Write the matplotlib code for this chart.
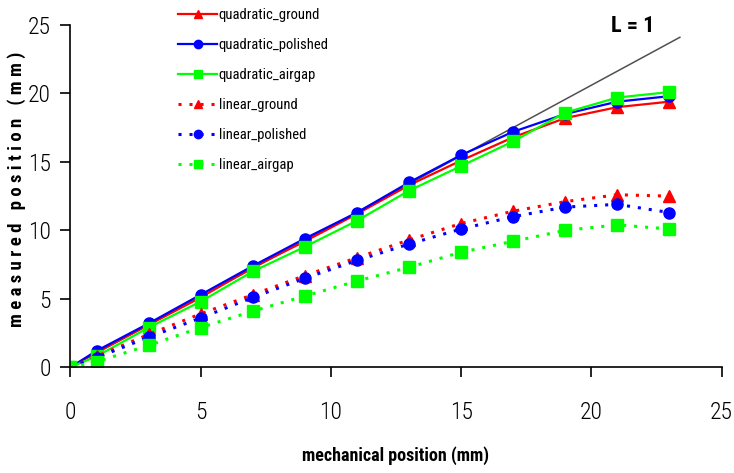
import matplotlib
matplotlib.use("Agg")
import matplotlib.pyplot as plt
from matplotlib import font_manager

# Narrow sans for the text, first one that is installed
names = {f.name for f in font_manager.fontManager.ttflist}
narrow = [n for n in ("Liberation Sans Narrow", "Arial Narrow", "Roboto Condensed",
                      "Archivo Narrow", "PT Sans Narrow", "Liberation Sans") if n in names][:1]
plt.rcParams["font.family"] = narrow + ["DejaVu Sans"]

# mechanical position (mm)
x = [0, 1, 3, 5, 7, 9, 11, 13, 15, 17, 19, 21, 23]

quadratic_ground = [0, 1.1, 3.1, 5.1, 7.3, 9.2, 11.2, 13.3, 15.1, 16.8, 18.2, 19.0, 19.4]
quadratic_polished = [0, 1.2, 3.2, 5.3, 7.4, 9.4, 11.3, 13.5, 15.5, 17.2, 18.5, 19.4, 19.8]
quadratic_airgap = [0, 0.8, 2.9, 4.8, 7.0, 8.8, 10.7, 12.9, 14.7, 16.5, 18.6, 19.7, 20.1]
linear_ground = [0, 0.8, 2.4, 3.9, 5.3, 6.7, 8.0, 9.3, 10.5, 11.4, 12.1, 12.6, 12.5]
linear_polished = [0, 0.7, 2.2, 3.6, 5.1, 6.5, 7.8, 9.0, 10.1, 11.0, 11.7, 11.9, 11.3]
linear_airgap = [0, 0.4, 1.6, 2.9, 4.1, 5.2, 6.3, 7.3, 8.4, 9.2, 10.0, 10.4, 10.1]

# ideal response line
ideal_x = [0, 23.4]
ideal_y = [0, 24.1]

ticks = [0, 5, 10, 15, 20, 25]

fig = plt.figure(figsize=(7.34, 4.73), dpi=100)
ax = fig.add_axes([0.096, 0.2235, 0.887, 0.7237])

ax.plot(ideal_x, ideal_y, color="#505050", lw=1.1, zorder=1)

dotted = (0, (1.0, 2.6))
series = [
    (quadratic_ground, "quadratic_ground", "#ff0000", "^", "-"),
    (quadratic_polished, "quadratic_polished", "#0000ff", "o", "-"),
    (quadratic_airgap, "quadratic_airgap", "#00ff00", "s", "-"),
    (linear_ground, "linear_ground", "#ff0000", "^", dotted),
    (linear_polished, "linear_polished", "#0000ff", "o", dotted),
    (linear_airgap, "linear_airgap", "#00ff00", "s", dotted),
]
for ys, label, col, mk, ls in series:
    ax.plot(x, ys, color=col, ls=ls, lw=2.2 if ls != "-" else 1.6,
            marker=mk, ms=8, mec=col, mfc=col, label=label, zorder=2)

ax.set_xlim(0, 25)
ax.set_ylim(0, 25)
ax.set_xticks(ticks)
ax.set_yticks(ticks)
for s in ("top", "right"):
    ax.spines[s].set_visible(False)
for s in ("left", "bottom"):
    ax.spines[s].set_linewidth(1.2)
ax.tick_params(axis="both", direction="out", length=7, width=1.2, labelsize=17)
ax.tick_params(axis="x", pad=17)
ax.tick_params(axis="y", pad=7)
for lab in ax.get_xticklabels() + ax.get_yticklabels():
    lab.set_fontweight("light")

ax.set_xlabel("mechanical position (mm)", fontsize=13, fontweight="bold", labelpad=16)
ax.set_ylabel("m e a s u r e d   p o s i t i o n   ( m m )", fontsize=13.5,
              fontweight="bold")
ax.yaxis.set_label_coords(-0.068, 0.52)

ax.text(21.6, 24.95, "L = 1", fontsize=16, fontweight="bold", ha="center",
        va="center", clip_on=False)

leg = ax.legend(loc="upper left", bbox_to_anchor=(178 / 734, 1 - 8 / 473),
                bbox_transform=fig.transFigure, frameon=False, fontsize=10.5,
                handlelength=2.7, handletextpad=0.1, labelspacing=1.1,
                borderpad=0, borderaxespad=0, markerscale=0.75)

fig.savefig("out.png", dpi=100)
